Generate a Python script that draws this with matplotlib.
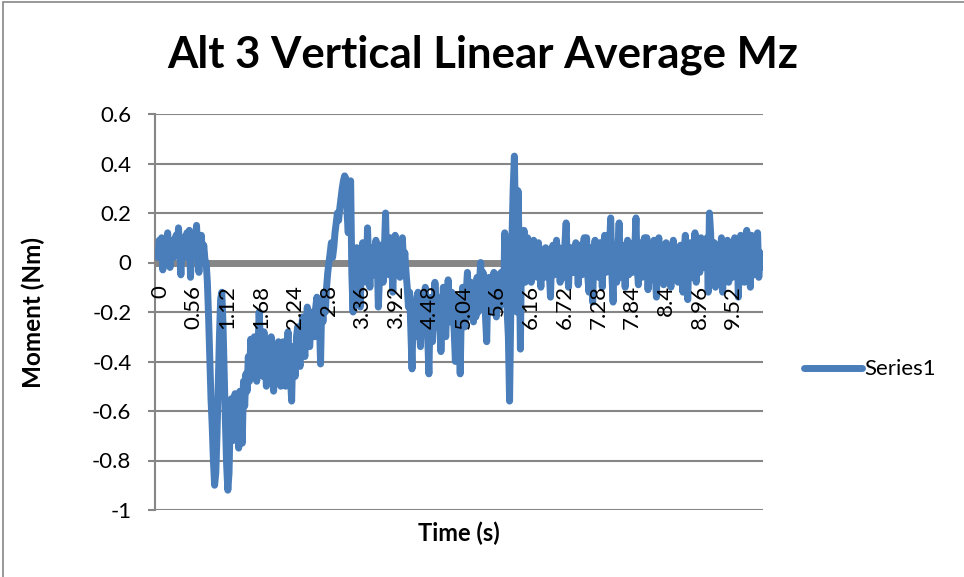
import matplotlib
matplotlib.use('Agg')

import matplotlib.pyplot as plt
import numpy as np
from matplotlib.patches import Rectangle
from matplotlib import rcParams

rcParams['font.family'] = ['Lato', 'DejaVu Sans']

# sample interval of the logged moment (s)
dt = 0.02

moment_nm = [
    # 0.00 - 0.78
    0.02, 0.09, 0.04, 0.10, -0.03, 0.06, 0.08, 0.01, 0.12, 0.05,
    -0.02, 0.07, 0.09, 0.02, 0.06, 0.11, 0.03, 0.14, 0.06, -0.05,
    0.08, 0.10, 0.02, 0.07, 0.12, 0.04, 0.13, -0.06, 0.06, 0.10,
    0.03, 0.09, 0.15, 0.05, -0.04, 0.08, 0.11, 0.02, 0.07, 0.01,
    # 0.80 - 1.54
    0.00, -0.08, -0.22, -0.38, -0.55, -0.66, -0.80, -0.90, -0.85, -0.70,
    -0.50, -0.30, -0.15, -0.12, -0.25, -0.45, -0.65, -0.82, -0.92, -0.85,
    -0.62, -0.55, -0.72, -0.58, -0.53, -0.68, -0.56, -0.75, -0.52, -0.60,
    -0.73, -0.48, -0.58, -0.45, -0.52, -0.38, -0.48, -0.31,
    # 1.56 - 2.06
    -0.44, -0.34, -0.30, -0.42, -0.48, -0.36, -0.20, -0.32, -0.40, -0.46,
    -0.28, -0.38, -0.50, -0.42, -0.34, -0.46, -0.30, -0.40, -0.52, -0.44,
    -0.36, -0.48, -0.32, -0.42, -0.50, -0.38,
    # 2.08 - 2.78
    -0.32, -0.44, -0.50, -0.36, -0.28, -0.40, -0.46, -0.56, -0.34, -0.42,
    -0.46, -0.30, -0.26, -0.38, -0.42, -0.30, -0.22, -0.34, -0.38, -0.26,
    -0.18, -0.30, -0.34, -0.24, -0.20, -0.28, -0.30, -0.18, -0.14, -0.26,
    -0.22, -0.41, -0.16, -0.24, -0.12, -0.20,
    # 2.80 - 3.30
    -0.10, -0.04, 0.00, 0.04, 0.08, 0.02, 0.06, 0.12, 0.16, 0.20,
    0.17, 0.22, 0.26, 0.30, 0.33, 0.35, 0.34, 0.20, 0.12, 0.28,
    0.33, -0.05, -0.20, 0.04, -0.12, 0.06,
    # 3.32 - 4.10
    0.05, -0.06, -0.18, 0.02, 0.08, -0.04, 0.03, -0.08, 0.14, 0.00,
    -0.10, 0.04, 0.06, -0.05, -0.02, 0.09, 0.03, -0.18, -0.06, 0.07,
    0.02, -0.08, 0.05, 0.20, -0.02, 0.06, -0.05, 0.10, 0.04, -0.12,
    0.02, 0.11, -0.03, 0.05, 0.08, -0.06, 0.03, 0.10, -0.02, 0.04,
    # 4.12 - 5.26
    -0.04, -0.10, -0.18, -0.12, -0.28, -0.43, -0.16, -0.22, -0.30, -0.14,
    -0.12, -0.26, -0.34, -0.18, -0.24, -0.28, -0.10, -0.20, -0.30, -0.45,
    -0.20, -0.14, -0.32, -0.24, -0.08, -0.18, -0.26, -0.14, -0.20, -0.36,
    -0.22, -0.10, -0.24, -0.30, -0.16, -0.07, -0.20, -0.24, -0.12, -0.18,
    -0.28, -0.40, -0.14, -0.22, -0.26, -0.45, -0.18, -0.10, -0.20, -0.26,
    -0.12, -0.04, -0.16, -0.22, -0.08, -0.18, -0.24, -0.10,
    # 5.28 - 5.74
    -0.22, -0.06, -0.20, -0.08, 0.00, -0.14, -0.04, -0.12, -0.22, -0.32,
    -0.10, -0.06, -0.18, -0.20, -0.08, -0.04, -0.16, -0.22, -0.05, -0.12,
    -0.18, -0.04, -0.10, -0.16,
    # 5.76 - 6.10
    0.12, 0.02, -0.20, -0.30, -0.56, -0.20, 0.10, 0.30, 0.43, 0.10,
    -0.20, 0.29, 0.05, -0.35, 0.08, -0.05, 0.13, -0.08,
    # 6.12 - 10.04
    0.02, 0.10, -0.04, 0.06, -0.08, 0.04, 0.09, -0.02, 0.07, -0.06,
    0.08, 0.01, -0.10, 0.05, 0.03, -0.06, 0.06, -0.02, 0.05, -0.04,
    -0.14, 0.04, 0.07, -0.05, 0.02, 0.09, -0.03, 0.06, -0.08, 0.03,
    0.04, -0.06, 0.08, 0.16, -0.02, -0.10, 0.05, 0.06, -0.04, 0.02,
    -0.04, 0.08, 0.03, -0.09, 0.07, 0.01, -0.05, 0.06, 0.10, -0.03,
    0.10, -0.06, -0.12, 0.04, 0.06, -0.16, 0.02, 0.09, -0.04, 0.05,
    -0.06, 0.08, 0.02, -0.10, 0.06, 0.11, -0.04, 0.03, -0.02, 0.07,
    0.18, -0.05, -0.16, 0.05, 0.02, -0.08, 0.06, 0.16, -0.03, -0.06,
    0.07, 0.03, -0.10, 0.04, 0.09, -0.05, 0.02, 0.06, -0.04, 0.08,
    0.06, 0.18, -0.02, -0.09, 0.08, 0.03, -0.06, 0.05, 0.10, -0.04,
    0.10, -0.11, 0.03, 0.05, -0.07, 0.02, 0.09, -0.05, -0.14, 0.06,
    0.10, -0.04, 0.03, 0.07, -0.09, 0.02, 0.08, -0.06, 0.04, 0.06,
    -0.10, 0.02, 0.09, -0.05, 0.04, 0.06, -0.08, 0.03, 0.07, -0.04,
    -0.12, 0.05, 0.11, -0.03, -0.15, 0.04, 0.08, -0.06, 0.02, -0.04,
    0.12, -0.08, 0.03, 0.07, -0.04, 0.10, 0.06, 0.02, -0.02, 0.06,
    0.10, -0.12, 0.20, 0.12, -0.06, 0.02, 0.08, -0.10, 0.05, 0.07,
    -0.05, 0.03, 0.10, -0.12, 0.02, 0.06, -0.04, 0.09, -0.08, 0.04,
    0.08, -0.06, 0.02, 0.10, -0.04, 0.07, -0.14, 0.03, 0.11, -0.02,
    0.06, -0.08, 0.04, 0.13, 0.04, 0.09, -0.10, 0.11, 0.02, -0.05,
    0.08, -0.03, 0.12, -0.06, 0.04, -0.02, 0.03,
]

time_s = np.arange(len(moment_nm)) * dt

xtick_labels = ['0', '0.56', '1.12', '1.68', '2.24', '2.8', '3.36', '3.92', '4.48',
                '5.04', '5.6', '6.16', '6.72', '7.28', '7.84', '8.4', '8.96', '9.52']
ytick_values = [-1, -0.8, -0.6, -0.4, -0.2, 0, 0.2, 0.4, 0.6]
ytick_labels = ['-1', '-0.8', '-0.6', '-0.4', '-0.2', '0', '0.2', '0.4', '0.6']

GRID = '#868686'
BLUE = '#4a7ebb'

fig = plt.figure(figsize=(9.64, 5.77), dpi=100)
ax = fig.add_axes([155 / 964, 67 / 577, 608 / 964, 396 / 577])

# chart border
fig.patches.append(Rectangle((3 / 964, -0.01), 1.0, 1 - 1.5 / 577 + 0.01,
                             transform=fig.transFigure, fill=False,
                             edgecolor=GRID, linewidth=1.2))

ax.set_xlim(-0.05, 10.05)
ax.set_ylim(-1, 0.6)

for yv in ytick_values:
    if yv != 0:
        ax.axhline(yv, color=GRID, linewidth=1.5, zorder=1)
# category axis sits at zero
ax.axhline(0, color=GRID, linewidth=5, zorder=1)

ax.plot(time_s, moment_nm, color=BLUE, linewidth=5, solid_joinstyle='round',
        solid_capstyle='round', zorder=3, label='Series1')

for spine in ['top', 'right', 'bottom']:
    ax.spines[spine].set_visible(False)
ax.spines['left'].set_color(GRID)
ax.spines['left'].set_linewidth(1.5)

ax.set_yticks(ytick_values)
ax.set_yticklabels(ytick_labels, fontsize=16)
ax.tick_params(axis='y', length=5, width=1.5, color=GRID, pad=12)
ax.set_xticks([])

for lab in xtick_labels:
    ax.annotate(lab, xy=(float(lab), 0), xytext=(1.5, -16), textcoords='offset points',
                rotation=90, ha='center', va='top', fontsize=16)

fig.text(483 / 964, 1 - 55 / 577, 'Alt 3 Vertical Linear Average Mz',
         fontsize=31.5, fontweight='bold', ha='center', va='center')
ax.set_ylabel('Moment (Nm)', fontsize=17.5, fontweight='bold', labelpad=34)
ax.set_xlabel('Time (s)', fontsize=17, fontweight='bold', labelpad=8)

ax.legend(loc='center left', bbox_to_anchor=(1.035, 0.355), frameon=False,
          fontsize=16, handlelength=2.6, handletextpad=0.1)

fig.savefig('out.png', dpi=100)
